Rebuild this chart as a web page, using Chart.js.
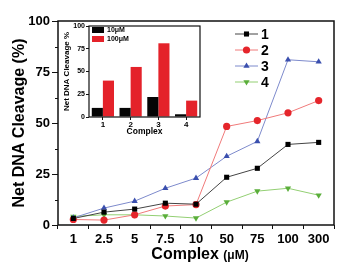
<!DOCTYPE html>
<html>
<head>
<meta charset="utf-8">
<script src="https://cdn.jsdelivr.net/npm/chart.js@4.4.1/dist/chart.umd.min.js"></script>
<style>
body{margin:0;background:#fff;}
#wrap{position:relative;width:356px;height:266px;}
#main{position:absolute;left:0;top:0;}
#inset{position:absolute;left:60px;top:18px;}
</style>
</head>
<body>
<div id="wrap">
<canvas id="main" width="356" height="266"></canvas>
<canvas id="inset" width="145" height="130"></canvas>
</div>
<script>
// main plot: cleavage vs complex concentration
var concLabels = ["1","2.5","5","7.5","10","50","75","100","300"];
var cleave1 = [3.2, 6.3, 7.8, 10.7, 10.2, 23.4, 27.8, 39.5, 40.5];
var cleave2 = [2.7, 2.4, 5.0, 9.3, 10.0, 48.3, 51.2, 55.0, 61.0];
var cleave3 = [3.5, 8.3, 11.7, 18.0, 23.0, 33.7, 41.0, 81.0, 80.0];
var cleave4 = [4.2, 5.0, 5.0, 4.4, 3.4, 11.2, 16.6, 18.0, 14.6];
var seriesNames = ["1","2","3","4"];
var yTicks = [0, 25, 50, 75, 100];

// inset: bars per complex
var complexLabels = ["1","2","3","4"];
var at10uM = [10, 10, 22, 3];
var at100uM = [40, 55, 81, 18];
var insetNames = ["10\u03bcM", "100\u03bcM"];

Chart.defaults.color = "#000";
Chart.defaults.font.family = "'Liberation Sans', Arial, sans-serif";

var boldFont = "'Liberation Sans', Arial, sans-serif";

function frameBox(lw){
  return {
    id: "frame",
    afterDraw: function(chart){
      var a = chart.chartArea, ctx = chart.ctx;
      ctx.save();
      ctx.strokeStyle = "#111";
      ctx.lineWidth = lw;
      ctx.strokeRect(a.left, a.top, a.right - a.left, a.bottom - a.top);
      ctx.restore();
    }
  };
}

// minor ticks on the y axis of main plot, plus x title and legend
var mainExtras = {
  id: "mainExtras",
  afterDraw: function(chart){
    var ctx = chart.ctx, a = chart.chartArea;
    var ys = chart.scales.y;
    ctx.save();
    ctx.strokeStyle = "#111";
    ctx.lineWidth = 1;
    for(var i=0;i<yTicks.length-1;i++){
      var v = (yTicks[i]+yTicks[i+1])/2;
      var py = Math.round(ys.getPixelForValue(v))+0.5;
      ctx.beginPath();
      ctx.moveTo(a.left-3, py);
      ctx.lineTo(a.left, py);
      ctx.stroke();
    }
    // x axis title with smaller unit
    ctx.fillStyle = "#000";
    ctx.textBaseline = "middle";
    var t1 = "Complex ", t2 = "(\u03bcM)";
    ctx.font = "bold 16px " + boldFont;
    var w1 = ctx.measureText(t1).width;
    ctx.font = "bold 12px " + boldFont;
    var w2 = ctx.measureText(t2).width;
    var x0 = (a.left + a.right)/2 + 4 - (w1+w2)/2;
    ctx.font = "bold 16px " + boldFont;
    ctx.textAlign = "left";
    ctx.fillText(t1, x0, 255);
    ctx.font = "bold 12px " + boldFont;
    ctx.fillText(t2, x0 + w1, 256);
    // legend
    var ds = chart.data.datasets;
    for(var k=0;k<ds.length;k++){
      var ly = 34 + 16*k;
      ctx.strokeStyle = ds[k].borderColor;
      ctx.lineWidth = 1;
      ctx.beginPath();
      ctx.moveTo(235, ly);
      ctx.lineTo(258, ly);
      ctx.stroke();
      ctx.fillStyle = ds[k].pointBackgroundColor;
      Chart.helpers.drawPoint(ctx, {
        pointStyle: ds[k].pointStyle,
        radius: ds[k].pointRadius,
        rotation: ds[k].pointRotation || 0,
        borderWidth: 0
      }, 246.5, ly);
      ctx.fillStyle = "#000";
      ctx.font = "bold 14px " + boldFont;
      ctx.textAlign = "left";
      ctx.fillText(ds[k].label, 261, ly + 1);
    }
    ctx.restore();
  }
};

function lineSet(name, data, lineCol, ptCol, style, rot){
  return {
    label: name,
    data: data,
    borderColor: lineCol,
    backgroundColor: ptCol,
    pointBackgroundColor: ptCol,
    pointBorderColor: ptCol,
    pointBorderWidth: 0,
    pointStyle: style,
    pointRotation: rot,
    pointRadius: 3.6,
    borderWidth: 1,
    tension: 0
  };
}

var mainChart = new Chart(document.getElementById("main"), {
  type: "line",
  data: {
    labels: concLabels,
    datasets: [
      lineSet(seriesNames[0], cleave1, "#444", "#000", "rect", 0),
      lineSet(seriesNames[1], cleave2, "#f07a7a", "#e5252b", "circle", 0),
      lineSet(seriesNames[2], cleave3, "#7d8acc", "#3a4fae", "triangle", 0),
      lineSet(seriesNames[3], cleave4, "#93cf73", "#5aae3a", "triangle", 180)
    ]
  },
  options: {
    responsive: false,
    animation: false,
    layout: {padding: {left: 0, top: 21, right: 22, bottom: 0}},
    plugins: {legend: {display: false}, tooltip: {enabled: false}},
    scales: {
      x: {
        offset: true,
        afterFit: function(s){ s.height = 41; },
        grid: {drawOnChartArea: false, tickLength: 4, color: "#111", offset: true},
        border: {display: false},
        ticks: {padding: 3, maxRotation: 0, font: {size: 13, weight: "bold"}}
      },
      y: {
        min: 0, max: 100,
        afterFit: function(s){ s.width = 58; },
        afterBuildTicks: function(s){ s.ticks = yTicks.map(function(v){ return {value: v}; }); },
        grid: {drawOnChartArea: false, tickLength: 6, color: "#111"},
        border: {display: false},
        ticks: {padding: 2, font: {size: 13, weight: "bold"}},
        title: {display: true, text: "Net DNA Cleavage (%)", padding: {top: 10, bottom: 0},
                font: {size: 16, weight: "bold"}}
      }
    }
  },
  plugins: [frameBox(1.5), mainExtras]
});

var insetLegend = {
  id: "insetLegend",
  afterDraw: function(chart){
    var ctx = chart.ctx, ds = chart.data.datasets;
    ctx.save();
    for(var k=0;k<ds.length;k++){
      var ly = 12 + 9*k;
      ctx.fillStyle = ds[k].backgroundColor;
      ctx.fillRect(32, ly-3, 12, 6);
      ctx.fillStyle = "#000";
      ctx.font = "bold 7px " + boldFont;
      ctx.textAlign = "left";
      ctx.textBaseline = "middle";
      ctx.fillText(ds[k].label, 47, ly);
    }
    ctx.restore();
  }
};

var insetChart = new Chart(document.getElementById("inset"), {
  type: "bar",
  data: {
    labels: complexLabels,
    datasets: [
      {label: insetNames[0], data: at10uM, backgroundColor: "#050505", borderWidth: 0},
      {label: insetNames[1], data: at100uM, backgroundColor: "#e4222a", borderWidth: 0}
    ]
  },
  options: {
    responsive: false,
    animation: false,
    layout: {padding: {left: 0, top: 8, right: 5, bottom: 0}},
    plugins: {legend: {display: false}, tooltip: {enabled: false}},
    datasets: {bar: {categoryPercentage: 0.8, barPercentage: 1.0}},
    scales: {
      x: {
        afterFit: function(s){ s.height = 31; },
        grid: {drawOnChartArea: false, tickLength: 3, color: "#111", offset: false},
        border: {display: false},
        ticks: {padding: 0, maxRotation: 0, font: {size: 8, weight: "bold"}},
        title: {display: true, text: "Complex", padding: {top: 0, bottom: 11},
                font: {size: 8.5, weight: "bold"}}
      },
      y: {
        min: 0, max: 100,
        afterFit: function(s){ s.width = 29; },
        afterBuildTicks: function(s){ s.ticks = yTicks.map(function(v){ return {value: v}; }); },
        grid: {drawOnChartArea: false, tickLength: 3, color: "#111"},
        border: {display: false},
        ticks: {padding: 1, font: {size: 7, weight: "bold"}},
        title: {display: true, text: "Net DNA Cleavage %", padding: {top: 2, bottom: 0},
                font: {size: 8, weight: "bold"}}
      }
    }
  },
  plugins: [frameBox(1.2), insetLegend]
});
</script>
</body>
</html>
